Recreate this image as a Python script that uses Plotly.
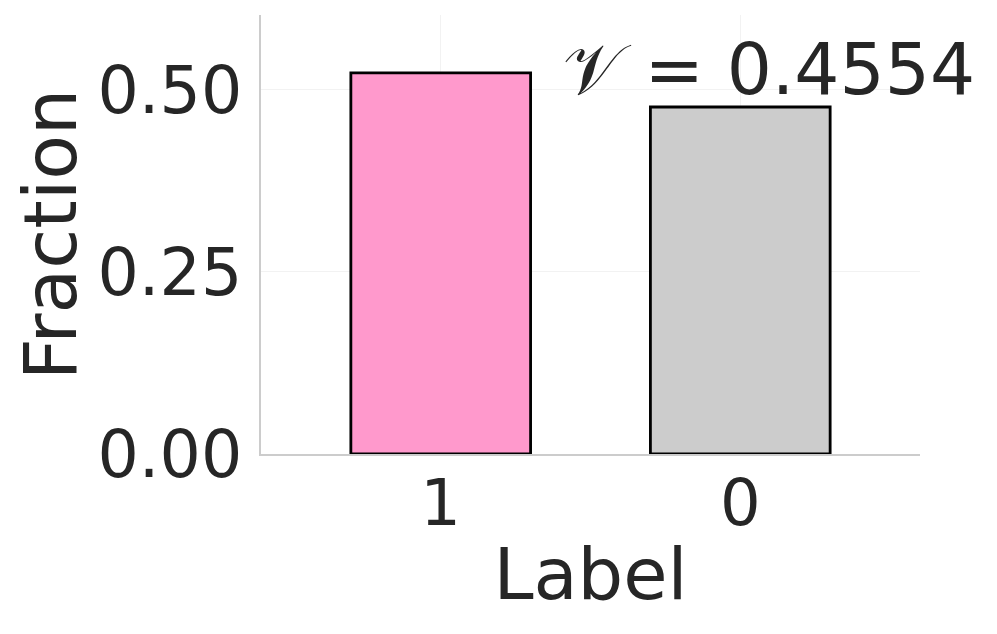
import plotly.graph_objects as go

# Label fractions
labels = ["1", "0"]
fractions = [0.5234, 0.4766]
bar_colors = ["#ff99cc", "#cccccc"]
v_score = 0.4554

fig = go.Figure()
fig.add_trace(go.Bar(
    x=labels, y=fractions,
    width=0.6,
    marker=dict(color=bar_colors, line=dict(color="black", width=2.8)),
    showlegend=False
))

fig.add_annotation(
    xref="paper", yref="paper", x=1.087, y=0.875,
    xanchor="right", yanchor="middle",
    text="𝒱 = %.4f" % v_score,
    showarrow=False,
    font=dict(size=71, color="#262626", family="DejaVu Sans")
)

# page body has an 8px margin, so the figure is drawn slightly smaller
fig.update_layout(
    width=989, height=626,
    margin=dict(l=253, r=77, t=7, b=180),
    plot_bgcolor="white", paper_bgcolor="white",
    font=dict(family="DejaVu Sans", color="#262626"),
    bargap=0.4,
)
fig.update_xaxes(
    type="category", range=[-0.6, 1.6],
    showgrid=True, gridcolor="#f2f2f2", gridwidth=1,
    showline=True, linecolor="#cccccc", linewidth=1.5,
    ticks="", tickfont=dict(size=64), ticklabelstandoff=-8,
    title=dict(text="Label", font=dict(size=72), standoff=10),
)
fig.update_yaxes(
    range=[0, 0.603], tickvals=[0, 0.25, 0.5], ticktext=["0.00", "0.25", "0.50"],
    showgrid=True, gridcolor="#f2f2f2", gridwidth=1,
    showline=True, linecolor="#cccccc", linewidth=1.5, zeroline=False,
    ticks="", tickfont=dict(size=65), ticklabelstandoff=4,
    title=dict(text="Fraction", font=dict(size=73), standoff=22),
)

fig.write_html("out.html")
